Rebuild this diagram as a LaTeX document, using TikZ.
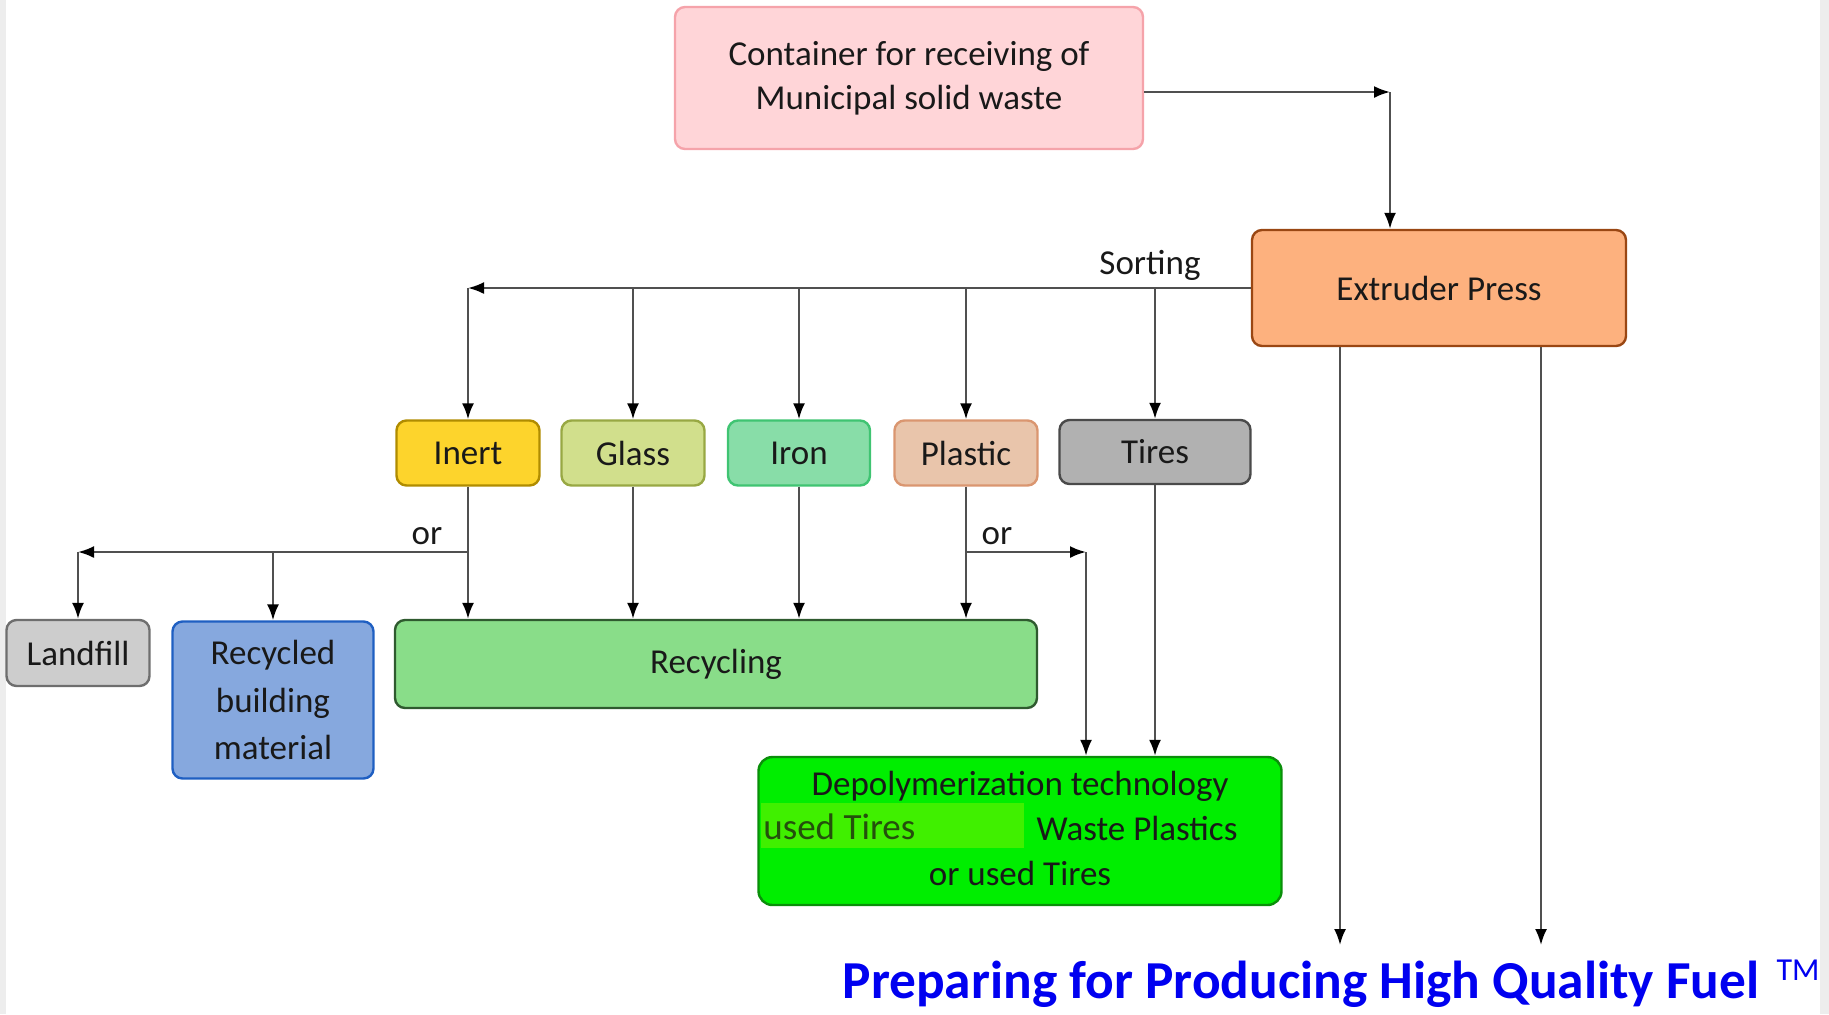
\documentclass[tikz,border=0pt]{standalone}
\usepackage{fontspec}
\setmainfont{Carlito}
\usepackage{xcolor}
\usepackage{tikz}
\usetikzlibrary{arrows.meta, positioning}
\definecolor{linegrey}{HTML}{505050}
\definecolor{contfill}{HTML}{FFD5D8}
\definecolor{contdraw}{HTML}{F5A3AA}
\definecolor{extfill}{HTML}{FDB17E}
\definecolor{extdraw}{HTML}{9A4713}
\definecolor{inertfill}{HTML}{FDD42C}
\definecolor{inertdraw}{HTML}{B08C00}
\definecolor{glassfill}{HTML}{D1DF8C}
\definecolor{glassdraw}{HTML}{98A843}
\definecolor{ironfill}{HTML}{88DDA8}
\definecolor{irondraw}{HTML}{3FC472}
\definecolor{plasticfill}{HTML}{E9C5AB}
\definecolor{plasticdraw}{HTML}{DA9670}
\definecolor{tiresfill}{HTML}{B1B1B1}
\definecolor{tiresdraw}{HTML}{4A4A4A}
\definecolor{landfill}{HTML}{CDCDCD}
\definecolor{landdraw}{HTML}{6E6E6E}
\definecolor{rbmfill}{HTML}{86A8DE}
\definecolor{rbmdraw}{HTML}{1F5FC2}
\definecolor{recycfill}{HTML}{89DD89}
\definecolor{recycdraw}{HTML}{2F5A2F}
\definecolor{depolyfill}{HTML}{00EE00}
\definecolor{depolydraw}{HTML}{0A8F0A}
\definecolor{markfill}{HTML}{40F000}
\definecolor{marktext}{HTML}{24500C}
\definecolor{titleblue}{HTML}{0000F0}
\definecolor{edgegrey}{HTML}{EDEDED}

\begin{document}
\begin{tikzpicture}[
      x=0.5pt, y=-0.5pt,
      box/.style={draw, line width=1.2pt, rounded corners=5pt, inner sep=0pt, align=center,
        font=\fontsize{17.5}{22}\selectfont, text=black!90},
      line/.style={draw=linegrey, line width=1.1pt},
      arrow/.style={line, -{Latex[black, length=8pt, width=6pt]}},
      lbl/.style={font=\fontsize{17.5}{22}\selectfont, text=black!90, inner sep=0pt}
    ]
      \useasboundingbox (0,0) rectangle (1829,1014);
      \fill[edgegrey] (0,0) rectangle (6,1014);
      \fill[edgegrey] (1820,0) rectangle (1829,1014);

      % top of the flow
      \node[box, fill=contfill, draw=contdraw, minimum width=234pt, minimum height=71pt] (cont) at (909,78)
        {Container for receiving of\\Municipal solid waste};
      \node[box, fill=extfill, draw=extdraw, minimum width=187pt, minimum height=58pt] (ext) at (1439,288)
        {\raisebox{-1.2pt}{Extruder Press}};
      \coordinate (turn) at (1390,92);
      \draw[arrow] (cont.east |- turn) -- (turn);
      \draw[arrow] (turn) -- (turn |- ext.north);

      % sorted fractions
      \node[box, fill=inertfill, draw=inertdraw, minimum width=71.5pt, minimum height=32.5pt] (inert) at (468,453) {\raisebox{-1.2pt}{Inert}};
      \node[box, fill=glassfill, draw=glassdraw, minimum width=71.5pt, minimum height=32.5pt] (glass) at (633,453) {\raisebox{-1.2pt}{Glass}};
      \node[box, fill=ironfill, draw=irondraw, minimum width=71pt, minimum height=32.5pt] (iron) at (799,453) {\raisebox{-1.2pt}{Iron}};
      \node[box, fill=plasticfill, draw=plasticdraw, minimum width=71.5pt, minimum height=32.5pt] (plastic) at (966,453) {\raisebox{-1.2pt}{Plastic}};
      \node[box, fill=tiresfill, draw=tiresdraw, minimum width=95.5pt, minimum height=32pt] (tires) at (1155,452) {Tires};

      \coordinate (sortL) at (468,288);
      \draw[arrow] (ext.west) -- (sortL);
      \node[lbl] (sorting) at (1150,265) {Sorting};
      \draw[arrow] (sortL) -- (inert.north);
      \foreach \n in {glass, iron, plastic, tires}
        \draw[arrow] (\n.north |- sortL) -- (\n.north);

      % destinations
      \node[box, fill=recycfill, draw=recycdraw, minimum width=321pt, minimum height=44pt] (recyc) at (716,664) {\raisebox{-1.2pt}{Recycling}};
      \node[box, fill=landfill, draw=landdraw, minimum width=71.5pt, minimum height=33pt] (land) at (78,653) {Landfill};
      \node[box, fill=rbmfill, draw=rbmdraw, minimum width=100.5pt, minimum height=78.5pt,
        font=\fontsize{17.5}{23.75}\selectfont] (rbm) at (273,700) {Recycled\\building\\material};
      \node[box, fill=depolyfill, draw=depolydraw, rounded corners=7pt, minimum width=261.5pt, minimum height=74pt] (depoly) at (1020,831) {};
      \node[lbl] (depoly1) at (1020,786) {Depolymerization technology};
      \node[fill=markfill, inner sep=0pt, minimum width=131.5pt, minimum height=22.5pt] (mark) at (892,825) {};
      \node[lbl, text=marktext, anchor=west, font=\fontsize{18.5}{22}\selectfont] (marktxt) at (763,827) {used Tires};
      \node[lbl] (depoly2) at (1137,828) {Waste Plastics};
      \node[lbl] (depoly3) at (1020,873) {or used Tires};

      \foreach \n in {inert, glass, iron, plastic}
        \draw[arrow] (\n.south) -- (\n.south |- recyc.north);

      % or branches
      \coordinate (orL) at (78,552);
      \coordinate (orR) at (1086,552);
      \draw[arrow] (inert.south |- orL) -- (orL);
      \draw[arrow] (orL) -- (land.north);
      \draw[arrow] (rbm.north |- orL) -- (rbm.north);
      \node[lbl] (orLtxt) at (427,536) {or};
      \draw[arrow] (plastic.south |- orR) -- (orR);
      \draw[arrow] (orR) -- (orR |- depoly.north);
      \node[lbl] (orRtxt) at (997,536) {or};
      \draw[arrow] (tires.south) -- (tires.south |- depoly.north);

      % fuel
      \coordinate (fuelA) at (1340,945);
      \coordinate (fuelB) at (1541,945);
      \draw[arrow] (ext.south -| fuelA) -- (fuelA);
      \draw[arrow] (ext.south -| fuelB) -- (fuelB);
      \node[inner sep=0pt, text=titleblue, font=\fontsize{26.7}{30}\selectfont\bfseries] (title) at (1301,984)
        {Preparing for Producing High Quality Fuel};
      \node[inner sep=0pt, text=titleblue, font=\fontsize{16}{18}\selectfont] (tm) at (1798,970) {TM};
    \end{tikzpicture}
\end{document}
